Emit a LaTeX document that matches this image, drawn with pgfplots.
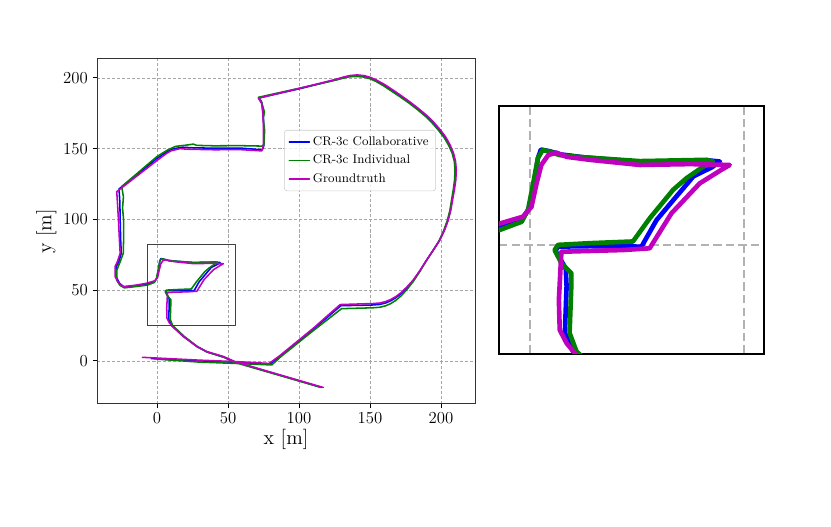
\documentclass[border=0pt]{standalone}
\usepackage{pgfplots}
\pgfplotsset{compat=1.18}
\usepackage{pgfplotstable}
\definecolor{mblue}{RGB}{0,0,255}
\definecolor{mgreen}{RGB}{0,128,0}
\definecolor{mmag}{RGB}{191,0,191}
\pgfplotstableread{
x y
-10.3 2.5
10 1.5
30 0.5
55 -0.5
79 -1.8
86.6 3.8
110 23
129 39.8
145 40.3
152 40.5
157 40.9
161 41.9
164.5 43.3
168 45.3
172 48.3
176 52.2
180.5 57.2
185.5 64.3
190 71.4
194.8 78.5
199.3 85.5
202.6 92.5
205.2 99.6
207 106.7
208.2 113.8
209.5 121
210.5 127.9
210.8 135
210.3 141
208.8 147
206.5 152.5
203.3 158.3
199.3 163.6
194.8 168.8
190 173.5
184 178.5
178.2 183
172.2 187.3
166.4 191.3
160.5 195.2
154.7 198.4
150.5 200.3
146 201.6
141 202.1
136 201.7
131 200.5
126 199
100.7 192.7
71.4 185.6
73.7 182
74.5 175
75 165
74.9 152
73.7 148.4
58.5 149.3
40 149.2
20.9 149.6
16.2 150
10 148.5
6.8 146.7
-0.2 141.5
-28.4 119.6
-27.8 110
-27.2 99.6
-26.5 85
-26 76
-28 70
-29.6 66.6
-29.6 59.6
-27 55
-23.7 52.5
-15 53.5
-7.3 54.9
-1.6 56.6
0.4 58.9
1.6 64.4
2.7 68.7
4.3 71.0
6.2 71.6
8.6 70.6
14.0 69.9
25.7 68.7
37.4 68.9
46.7 68.7
44.5 67.4
39.7 64.4
33.1 57.4
28.0 49.2
21.8 48.8
7.4 48.4
7.2 44.9
6.8 37.1
7.0 30.1
8.6 27.0
10.5 24.7
18.5 17.2
28 10.1
35 6.6
46.7 3.1
54.9 -0.5
78.4 -7.5
117.1 -18.8
}\gt
\pgfplotstableread{
x y
-4 1.6
10 0.9
30 0
55 -1
79.5 -2.3
86.6 3.2
110 22.3
129.5 39
145 39.3
152 39.5
157 39.9
161 40.9
164.5 42.4
168 44.5
172 47.6
176 51.6
180.4 56.6
185.3 63.8
189.7 70.9
194.5 78.1
199 85.1
202.3 92.2
204.9 99.4
206.7 106.6
207.9 113.8
209.1 121
210.1 127.9
210.4 135
209.9 141
208.4 147
206.1 152.3
202.9 158
198.9 163.2
194.4 168.4
189.6 173.1
183.7 178.1
177.9 182.6
171.9 186.9
166.1 190.9
160.3 194.8
154.5 198
150.3 199.9
146 201.1
141 201.6
136 201.3
131 200.1
126 198.7
100.7 192.4
71.6 185.8
73.8 182.5
74.8 175
75.2 165
75.2 152
74.2 149.2
58.5 150.4
40 150.3
25 150.6
18 151
11 149.8
7 147.8
-0.2 143
-26.8 121.5
-26.2 112
-26 100
-25.6 85
-25.2 76
-27 70
-28.8 66.6
-28.9 59.6
-26.4 54.8
-23.3 52.2
-15 53.2
-7 54.3
-1.9 55.8
-0.2 58.5
1.0 64.4
1.9 70.3
2.6 72.3
4.7 71.9
7.0 71.2
12.5 70.5
25.7 69.4
41.5 69.8
44.4 69.5
42.6 68.2
38.2 66.0
33.8 60.8
29.6 55.8
26.1 49.6
14 49.7
6.6 49.6
6.0 48.6
7.0 46.9
8.4 44.5
8.6 40.3
8.2 29.4
10.1 25.1
18.3 17.5
28 10.3
35 6.4
46.7 2.8
54.9 -0.8
78.4 -7.7
115.8 -18.8
}\collab
\pgfplotstableread{
x y
0 1.2
10 0.5
30 -0.9
55 -1.8
80.8 -2.9
87 2.8
110 21.3
130 36.9
145 37.3
152 37.5
157 37.9
161 38.9
164.5 40.4
168 42.6
172 46
176 50.4
180.3 55.8
185 62.9
189.3 70.1
194 77.4
198.5 84.5
201.8 91.7
204.4 99
206.3 106.3
207.5 113.8
208.7 121
209.6 127.9
209.9 135
209.4 141
207.9 146.8
205.6 152
202.4 157.6
198.4 162.8
193.9 168
189.2 172.7
183.3 177.7
177.5 182.2
171.5 186.4
165.7 190.3
159.9 194.2
154.2 197.5
150 199.4
145.5 200.6
140 201
135 200.7
130 199.5
125 198.2
100.7 192.8
71.5 186.3
73.5 183.5
75.6 176
74.8 171
75.8 163
75.3 153
74 151.8
58.5 152.1
40 152
28 152.3
25.6 153.2
20 152.4
13 151.6
7 148.8
-0.2 144.3
-24.9 123.2
-23.7 116
-24.3 108
-23.6 100
-23.6 85
-23.8 76
-26 70
-28.4 64
-28.4 57
-26.2 53.4
-23 51.6
-15 52.5
-7 53.5
-1.9 55.4
-0.4 58.2
0.8 64.4
1.9 70.3
3.0 72.2
4.7 71.8
7.0 71.0
12.5 70.5
25.7 69.6
41.3 69.9
42.8 69.5
40.5 68.3
36.6 65.6
33.5 62.9
28.0 56.2
24.1 50.8
14 50.4
6.6 50.0
5.8 48.8
7.4 45.7
9.7 43.4
9.7 40.3
9.3 29.4
10.9 25.1
18.8 17.6
28.5 10
35.5 6.1
47 2.5
55 -1.2
78.4 -8
115 -18.6
}\indiv
\begin{document}
\begin{tikzpicture}
\path (0,0) rectangle (593.6pt,376.4pt);
\begin{axis}[
  at={(69.3pt,87.9pt)}, anchor=south west, scale only axis,
  width=270pt, height=246.4pt,
  xmin=-42.3, xmax=224, ymin=-30.4, ymax=213.4,
  xtick={0,50,100,150,200}, ytick={0,50,100,150,200},
  grid=major, grid style={black!35, line width=0.4pt, dash pattern=on 2.2pt off 1.4pt},
  tick align=outside, tick pos=left, major tick length=3pt,
  tick style={black, line width=0.6pt},
  axis line style={black!80, line width=0.7pt},
  tick label style={font=\fontsize{12}{14}\selectfont},
  label style={font=\fontsize{14.5}{17}\selectfont},
  xlabel={x [m]}, ylabel={y [m]},
  xlabel style={yshift=3pt}, ylabel style={yshift=-2pt},
  legend cell align=left,
  legend style={at={(0.495,0.794)}, anchor=north west, draw=black!20, rounded corners=2pt,
    fill=white, fill opacity=0.8, text opacity=1, font=\fontsize{9}{10.6}\selectfont,
    inner xsep=3pt, inner ysep=2.5pt, row sep=1.4pt},
  legend image code/.code={\draw[#1] (0pt,0pt) -- (14.3pt,0pt);},
  every axis plot/.append style={line width=1.1pt, line join=round, line cap=round},
]
\addplot[mblue, no markers] table[x=x,y=y] {\collab};
\addlegendentry{CR-3c Collaborative}
\addplot[mgreen, no markers] table[x=x,y=y] {\indiv};
\addlegendentry{CR-3c Individual}
\addplot[mmag, no markers] table[x=x,y=y] {\gt};
\addlegendentry{Groundtruth}
\addplot[black!75, line width=0.7pt, line cap=butt, forget plot] coordinates {(-7,24.7) (55,24.7) (55,82) (-7,82) (-7,24.7)};
\end{axis}
\begin{axis}[
  at={(356.4pt,123.6pt)}, anchor=south west, scale only axis,
  width=189.3pt, height=177.1pt,
  xmin=-7.2, xmax=54.7, ymin=24.5, ymax=82.5,
  xtick={0,50}, ytick={50}, xticklabels={}, yticklabels={},
  tick style={draw=none},
  grid=major, grid style={black!30, line width=1.3pt, dash pattern=on 6pt off 3pt},
  axis line style={black, line width=1.4pt},
  every axis plot/.append style={line width=3.3pt, line join=round, line cap=round},
]
\addplot[mblue, no markers] table[x=x,y=y] {\collab};
\addplot[mgreen, no markers] table[x=x,y=y] {\indiv};
\addplot[mmag, no markers] table[x=x,y=y] {\gt};
\end{axis}
\end{tikzpicture}
\end{document}
